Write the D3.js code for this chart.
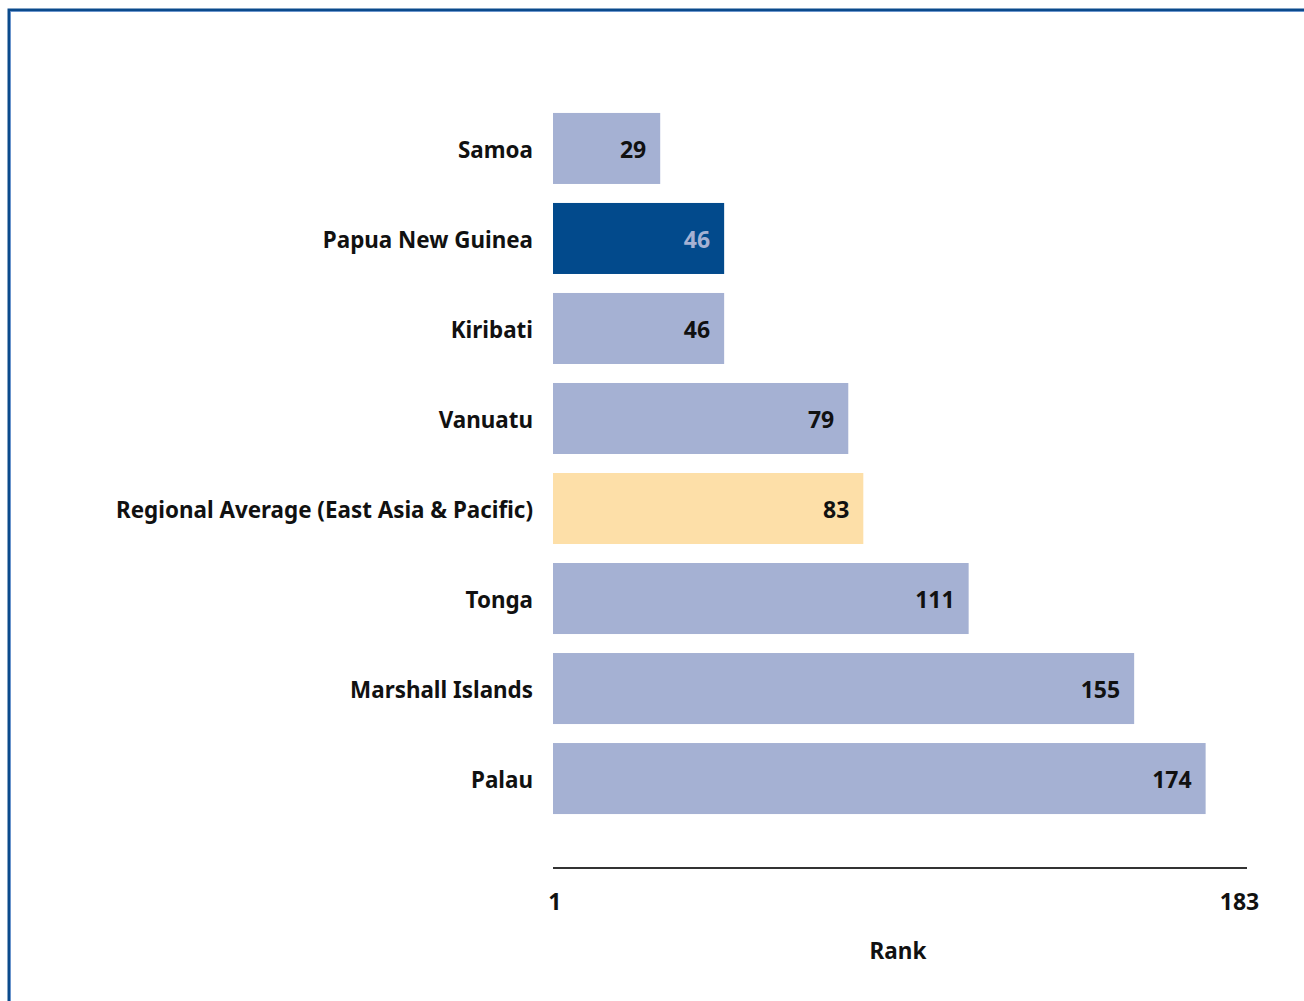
<!DOCTYPE html>
<html>
<head>
<meta charset="utf-8">
<script src="https://cdn.jsdelivr.net/npm/d3@7/dist/d3.min.js"></script>
<style>
  html, body { margin: 0; padding: 0; background: #fff; }
  svg text { font-family: "Noto Sans", "Open Sans", sans-serif; font-weight: bold; fill: #111; }
</style>
</head>
<body>
<div id="chartDiv"></div>
<script>

// Data
var countries = ["Samoa", "Papua New Guinea", "Kiribati", "Vanuatu",
                 "Regional Average (East Asia & Pacific)", "Tonga",
                 "Marshall Islands", "Palau"];
var ranks     = [29, 46, 46, 79, 83, 111, 155, 174];
var rankTicks = [1, 183];

var WIDTH  = 1304;
var HEIGHT = 1001;

var BAR_COLOR   = "#a5b1d3";
var FOCUS_COLOR = "#024a8c";
var AVG_COLOR   = "#fddfa8";

var svg = d3.select("#chartDiv").append("svg")
	.attr("width", WIDTH)
	.attr("height", HEIGHT);

// Frame round the picture (only top and left show):
svg.append("path")
	.attr("d", "M9,1001 V10 H1304")
	.attr("fill", "none")
	.attr("stroke", "#0b4a8c")
	.attr("stroke-width", 3);
svg.append("path")
	.attr("d", "M10.5,1001 V11.5 H1304")
	.attr("fill", "none")
	.attr("stroke", "#6b95cc")
	.attr("stroke-width", 1);

var x = d3.scaleLinear()
	.domain([0.5, 185])
	.range([553, 1247]);

var y = d3.scaleBand()
	.domain(countries)
	.range([103.5, 823.5])
	.paddingInner(0.211)
	.paddingOuter(0.105);

var rows = countries.map(function(c, i) { return { name: c, rank: ranks[i] }; });

var fillFor = function(d) {
	if (d.name === "Papua New Guinea") return FOCUS_COLOR;
	if (d.name.indexOf("Regional") === 0) return AVG_COLOR;
	return BAR_COLOR;
};

svg.selectAll("rect.bar")
	.data(rows)
	.enter().append("rect")
	  .attr("class", "bar")
	  .attr("x", x(0.5))
	  .attr("y", function(d) { return y(d.name); })
	  .attr("width", function(d) { return x(d.rank) - x(0.5); })
	  .attr("height", y.bandwidth())
	  .attr("fill", fillFor);

// Value labels inside the bar ends:
svg.selectAll("text.val")
	.data(rows)
	.enter().append("text")
	  .attr("class", "val")
	  .attr("x", function(d) { return x(d.rank) - 14; })
	  .attr("y", function(d) { return y(d.name) + y.bandwidth() / 2; })
	  .attr("dy", "0.4em")
	  .attr("text-anchor", "end")
	  .style("font-size", "23px")
	  .style("fill", function(d) { return d.name === "Papua New Guinea" ? BAR_COLOR : "#111"; })
	  .text(function(d) { return d.rank; });

// Category labels:
svg.selectAll("text.cat")
	.data(rows)
	.enter().append("text")
	  .attr("class", "cat")
	  .attr("x", 533)
	  .attr("y", function(d) { return y(d.name) + y.bandwidth() / 2; })
	  .attr("dy", "0.42em")
	  .attr("text-anchor", "end")
	  .style("font-size", "22.4px")
	  .text(function(d) { return d.name; });

// Rank axis:
svg.append("line")
	.attr("x1", x(0.5)).attr("x2", x(185))
	.attr("y1", 868).attr("y2", 868)
	.attr("stroke", "#333")
	.attr("stroke-width", 2);

svg.selectAll("text.tick")
	.data(rankTicks)
	.enter().append("text")
	  .attr("class", "tick")
	  .attr("x", function(d) { return x(d); })
	  .attr("y", 910)
	  .attr("text-anchor", "middle")
	  .style("font-size", "23px")
	  .text(function(d) { return d; });

svg.append("text")
	.attr("x", 898)
	.attr("y", 959)
	.attr("text-anchor", "middle")
	.style("font-size", "22.5px")
	.text("Rank");

</script>
</body>
</html>
